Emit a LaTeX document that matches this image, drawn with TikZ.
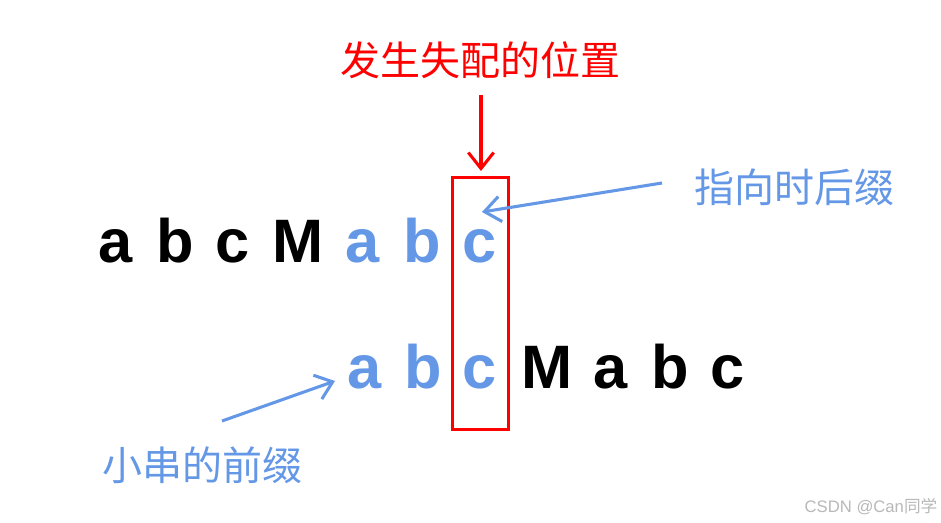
\documentclass[tikz,border=0pt]{standalone}
\usepackage{fontspec}
\setmainfont{Liberation Sans}
\newfontfamily\cjk{Noto Sans CJK SC}
\usetikzlibrary{positioning}
\usetikzlibrary{arrows.meta}
\definecolor{matchblue}{RGB}{100,152,230}
\definecolor{failred}{RGB}{255,0,0}
\tikzset{>={Straight Barb[length=12pt,width=19pt]}}

\begin{document}
\begin{tikzpicture}[x=0.75pt,y=-0.75pt,
    letter/.style={inner sep=0pt, anchor=base, font=\fontsize{46}{46}\selectfont\bfseries},
    plain/.style={letter, text=black},
    same/.style={letter, text=matchblue},
    note/.style={inner sep=0pt, font=\cjk\fontsize{30}{30}\selectfont},
    box/.style={draw=failred, line width=2.3pt, minimum width=42pt, minimum height=189pt, inner sep=0pt} ]

    \useasboundingbox (0,0) rectangle (941,523);

    %Nodes
    \node[plain] (t1) at (116,263) {a};
    \node[plain] (t2) at (175,263) {b};
    \node[plain] (t3) at (233,263) {c};
    \node[plain] (t4) at (298,263) {M};
    \node[same] (t5) at (363,263) {a};
    \node[same] (t6) at (422,263) {b};
    \node[same] (t7) at (480,263) {c};

    \node[same] (p1) at (365,388) {a};
    \node[same] (p2) at (423,388) {b};
    \node[same] (p3) at (480,388) {c};
    \node[plain] (p4) at (547,388) {M};
    \node[plain] (p5) at (611,388) {a};
    \node[plain] (p6) at (670,388) {b};
    \node[plain] (p7) at (728,388) {c};

    \node[box] (mismatch) at (480.5,303.5) {};
    \node[note, text=failred] (title) at (480,60) {发生失配的位置};
    \node[note, text=matchblue] (suffix) at (794,187) {指向时后缀};
    \node[note, text=matchblue] (prefix) at (202,465) {小串的前缀};
    \node[inner sep=0pt, text=black!28, font=\fontsize{12.5}{12.5}\selectfont] (mark) at (871,507) {CSDN @Can\cjk 同学};

    \coordinate (title_tail) at (481,95);
    \coordinate (title_tip) at (481,171);
    \coordinate (suffix_tail) at (662,183);
    \coordinate (suffix_tip) at (482,212);
    \coordinate (prefix_tail) at (222,421);
    \coordinate (prefix_tip) at (335,381);

    %Lines
    \draw[->, failred, line width=2.3pt] (title_tail) -- (title_tip);
    \draw[->, matchblue, line width=2.3pt] (suffix_tail) -- (suffix_tip);
    \draw[->, matchblue, line width=2.3pt] (prefix_tail) -- (prefix_tip);
\end{tikzpicture}
\end{document}
